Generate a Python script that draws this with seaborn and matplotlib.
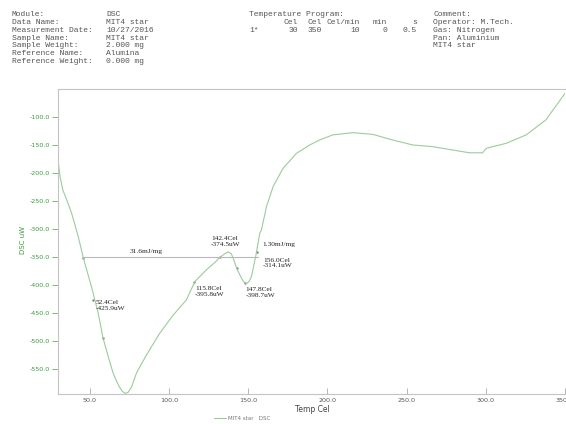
import numpy as np
import pandas as pd
import seaborn as sns
import matplotlib.pyplot as plt

# DSC curve
temp = [30.0, 30.4, 31.3, 33.0, 35.5, 38.6, 42.8, 46.0, 51.3, 55.4, 58.4, 61.7,
        64.7, 66.5, 68.5, 70.5, 72.3, 74.3, 76.5, 79.6, 85.9, 94.3, 102.7, 111.0,
        116.4, 123.7, 129.0, 132.1, 135.0, 137.4, 139.3, 140.8, 142.7, 145.8,
        147.3, 148.9, 150.6, 152.1, 154.8, 157.4, 158.4, 161.6, 165.8, 172.0,
        180.5, 188.9, 195.2, 203.4, 216.0, 228.6, 241.0, 253.9, 266.5, 279.0,
        289.8, 298.0, 300.3, 312.9, 325.5, 338.0, 348.4, 350.0]
dsc = [-180, -186, -207, -230, -248, -272, -314, -352, -405, -451, -495, -528,
       -557, -569, -581, -590, -594, -592, -582, -557, -525, -486, -454, -427,
       -394, -373, -360, -351, -345, -341, -344, -354, -370, -388,
       -395, -398, -394, -385, -349, -307, -302, -260, -224, -192,
       -165, -150, -141, -132, -128, -131, -141, -150, -153, -159,
       -164, -164, -156, -147, -132, -105, -64, -58]

# marked points on the curve
mark_t = [46.0, 52.4, 58.4, 115.8, 132.1, 142.7, 147.8, 155.3]
mark_v = [-352, -427, -495, -394, -351, -370, -397, -342]

# baseline of the integrated peaks
base_t = [46.0, 156.0]
base_v = [-350, -350]

# annotations (x, y, text)
notes = [
    (75.0, -340, "31.6mJ/mg"),
    (53.8, -437, "52.4Cel\n-425.9uW"),
    (116.5, -412, "115.8Cel\n-395.8uW"),
    (126.5, -322, "142.4Cel\n-374.5uW"),
    (159.0, -327, "1.30mJ/mg"),
    (159.5, -361, "156.0Cel\n-314.1uW"),
    (148.5, -414, "147.8Cel\n-398.7uW"),
]

xticks = [50, 100, 150, 200, 250, 300, 350]
yticks = [-100, -150, -200, -250, -300, -350, -400, -450, -500, -550]

# header info
info_labels = ["Module:", "Data Name:", "Measurement Date:", "Sample Name:",
               "Sample Weight:", "Reference Name:", "Reference Weight:"]
info_values = ["DSC", "MIT4 star", "10/27/2016", "MIT4 star", "2.000 mg",
               "Alumina", "0.000 mg"]
prog_head = ["Cel", "Cel", "Cel/min", "min", "s"]
prog_row = ["30", "350", "10", "0", "0.5"]
comments = ["Comment:", "Operator: M.Tech.", "Gas: Nitrogen",
            "Pan: Aluminium", "MIT4 star"]

df = pd.DataFrame({"Temp": temp, "DSC": dsc})

sns.set_theme(style="white")
W, H = 566, 424
fig = plt.figure(figsize=(W / 100, H / 100), dpi=100)
ax = fig.add_axes([58 / W, 1 - 394 / H, (565 - 58) / W, (394 - 89) / H])

green = "#9ccb9c"
sns.lineplot(data=df, x="Temp", y="DSC", ax=ax, color=green, lw=0.8,
             sort=False, label="MIT4 star   DSC")
sns.lineplot(x=base_t, y=base_v, ax=ax, color="#b8b8b8", lw=0.8)
sns.scatterplot(x=mark_t, y=mark_v, ax=ax, color="#808080", s=3,
                marker="o", linewidth=0)
handles, labels = ax.get_legend_handles_labels()
if ax.get_legend() is not None:
    ax.get_legend().remove()

for x, y, t in notes:
    ax.text(x, y, t, fontsize=5.3, family="Liberation Serif",
            color="#222222", va="center", ha="left", linespacing=1.15)

ax.set_xlim(30, 350)
ax.set_ylim(-595, -50)
ax.set_xticks(xticks)
ax.set_xticklabels([f"{v:.1f}" for v in xticks])
ax.set_yticks(yticks)
ax.set_yticklabels([f"{v:.1f}" for v in yticks])
ax.set_xlabel("")
ax.set_ylabel("")
ax.tick_params(axis="x", direction="in", length=4, width=0.6, color="#aaaaaa",
               labelsize=4.6, labelcolor="#555555", pad=3, bottom=True)
ax.tick_params(axis="y", direction="out", length=4, width=0.6, color="#6aae6a",
               labelsize=4.6, labelcolor="#3d9a3d", pad=1.5, left=True)
for s in ["left", "bottom", "top"]:
    ax.spines[s].set_color("#c4c4c4")
    ax.spines[s].set_linewidth(0.8)
ax.spines["right"].set_visible(False)

fig.text(23 / W, 1 - 240 / H, "DSC uW", rotation=90, fontsize=5,
         color="#3d9a3d", ha="center", va="center")
fig.text(312 / W, 1 - 410 / H, "Temp Cel", fontsize=5.5, color="#444444",
         ha="center", va="center")

fig.legend(handles[:1], labels[:1], loc="center left",
           bbox_to_anchor=(211 / W, 1 - 418 / H), frameon=False,
           fontsize=4, labelcolor="#777777", handlelength=2.2,
           handletextpad=0.3, borderpad=0)

# header block
mono = dict(family="Liberation Mono", fontsize=5.8, color="#555555",
            va="center")
for i, (lab, val) in enumerate(zip(info_labels, info_values)):
    y = 1 - (15 + 7.7 * i) / H
    fig.text(11.5 / W, y, lab, ha="left", **mono)
    fig.text(106 / W, y, val, ha="left", **mono)

fig.text(249 / W, 1 - 15 / H, "Temperature Program:", ha="left", **mono)
fig.text(249 / W, 1 - 30.4 / H, "1*", ha="left", **mono)
col_right = [298, 322, 360, 387, 417]
for xr, h, v in zip(col_right, prog_head, prog_row):
    fig.text(xr / W, 1 - 22.7 / H, h, ha="right", **mono)
    fig.text(xr / W, 1 - 30.4 / H, v, ha="right", **mono)

for i, c in enumerate(comments):
    fig.text(433 / W, 1 - (15 + 7.7 * i) / H, c, ha="left", **mono)

fig.savefig("out.png", dpi=100)
